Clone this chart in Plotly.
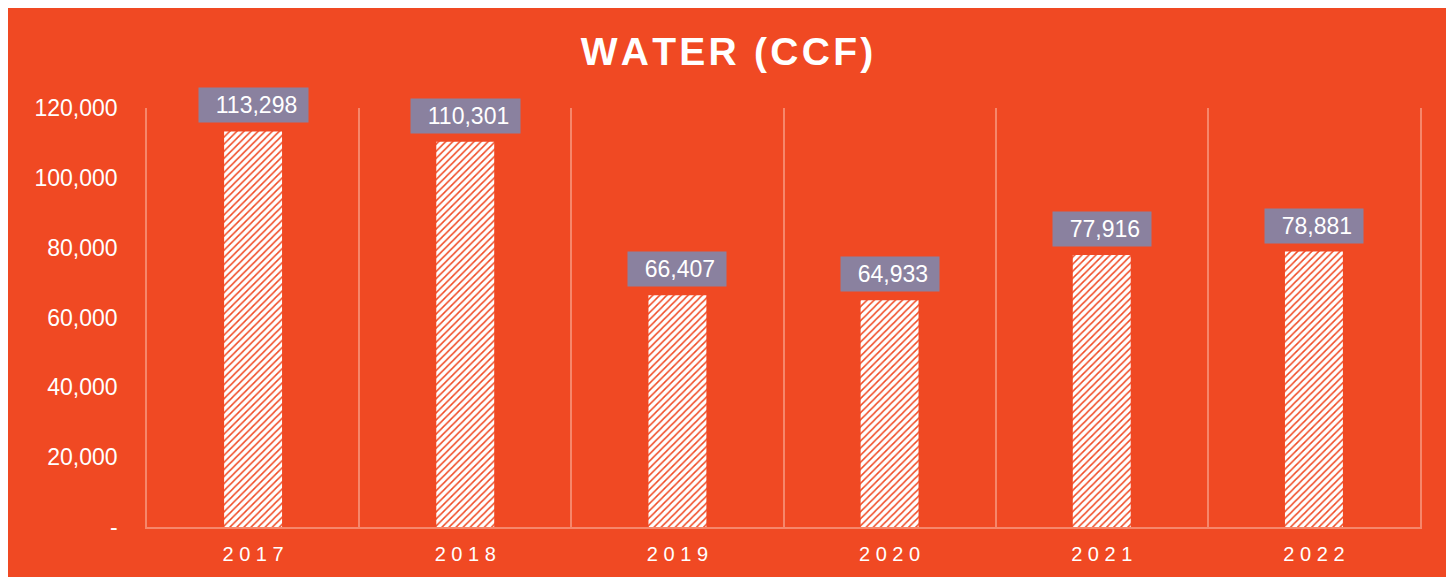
import plotly.graph_objects as go

years = ["2017", "2018", "2019", "2020", "2021", "2022"]
year_labels = ["2 0 1 7", "2 0 1 8", "2 0 1 9", "2 0 2 0", "2 0 2 1", "2 0 2 2"]
water_ccf = [113298, 110301, 66407, 64933, 77916, 78881]
y_tickvals = [0, 20000, 40000, 60000, 80000, 100000, 120000]
y_ticktext = ["-", "20,000", "40,000", "60,000", "80,000", "100,000", "120,000"]

ORANGE = "#F04923"
GRID = "#F6866A"
LABEL_BG = "#8A819F"
FONT = "Liberation Sans, Arial, sans-serif"

W, H = 1454, 577
idx = list(range(len(years)))
bounds = [i - 0.5 for i in range(len(years) + 1)]

fig = go.Figure()
fig.add_trace(go.Bar(
    x=idx, y=water_ccf, width=0.273, customdata=years,
    marker=dict(color="white", line=dict(width=0),
                pattern=dict(shape="/", fgcolor=ORANGE, bgcolor="white",
                             size=5, solidity=0.3, fillmode="replace")),
    hovertemplate="%{customdata}: %{y:,}<extra></extra>", showlegend=False,
))

for i, v in zip(idx, water_ccf):
    fig.add_annotation(
        x=i, y=v, xref="x", yref="y",
        text="&nbsp;&nbsp;" + f"{v:,}" + "&nbsp;",
        showarrow=False, yanchor="bottom", yshift=8,
        bgcolor=LABEL_BG, borderpad=4,
        font=dict(family=FONT, size=23, color="white"),
    )

fig.update_layout(
    width=W, height=H,
    margin=dict(l=139, r=42, t=100, b=58, autoexpand=False),
    paper_bgcolor=ORANGE, plot_bgcolor=ORANGE,
    title=dict(text="<b>W\u200aA\u200aT\u200aE\u200aR\u200a \u200a(\u200aC\u200aC\u200aF\u200a)</b>",
               x=719 / W, xanchor="center",
               xref="container", y=1 - 43 / H, yanchor="middle", yref="container",
               font=dict(family=FONT, size=39, color="white")),
    font=dict(family=FONT, color="white"),
    xaxis=dict(
        range=[-0.5, len(years) - 0.5], tickvals=idx, ticktext=year_labels,
        showgrid=False, zeroline=False,
        minor=dict(tickvals=bounds, showgrid=True, gridcolor=GRID, gridwidth=1.5, ticks=""),
        showline=True, linecolor=GRID, linewidth=1.5,
        ticks="", tickfont=dict(family=FONT, size=20, color="white"),
        ticklabelstandoff=8, automargin=False,
    ),
    yaxis=dict(
        range=[0, 120000], tickvals=y_tickvals, ticktext=y_ticktext,
        showgrid=False, zeroline=False,
        showline=True, mirror=True, linecolor=GRID, linewidth=1.5,
        ticks="", ticklabelstandoff=23, automargin=False,
        tickfont=dict(family=FONT, size=23, color="white"),
    ),
)

fig.write_html("out.html")
